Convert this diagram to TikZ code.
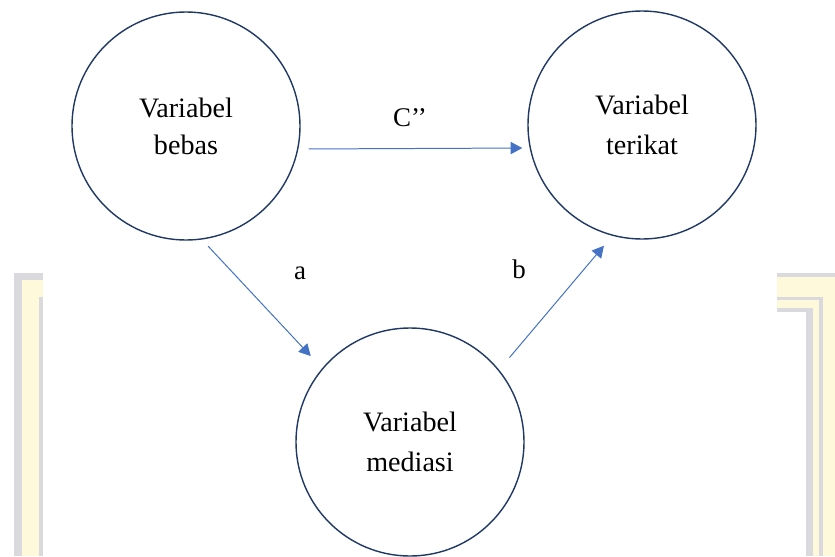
\documentclass[tikz,border=0pt]{standalone}
\usepackage{fontspec}
\setmainfont{Liberation Serif}
\usepackage{xcolor}
\usetikzlibrary{arrows.meta, positioning, calc}
\definecolor{varnavy}{RGB}{31, 56, 100}
\definecolor{varblue}{RGB}{68, 114, 196}
\definecolor{wmyellow}{RGB}{255, 249, 220}
\definecolor{wmgray}{RGB}{218, 218, 222}
\tikzset{
  varnode/.style={circle, draw=varnavy, line width=1.2pt, fill=white,
                  minimum size=6.84cm, inner sep=0pt, align=center,
                  font=\fontsize{24}{31.5}\selectfont},
  arrow/.style={-{Triangle[length=10pt, width=10.5pt]}, line width=0.85pt, color=varblue},
  pathlabel/.style={font=\fontsize{23}{26}\selectfont},
}

\begin{document}
\begin{tikzpicture}[x=0.03cm, y=-0.03cm]
        \useasboundingbox (0,0) rectangle (835,556);
        % watermark page border
        \fill[wmgray] (14,273) rectangle (43,556);
        \fill[wmyellow] (22,280) rectangle (43,556);
        \fill[wmgray] (39,297) rectangle (43,556);
        \fill[wmgray] (777,273) rectangle (835,556);
        \fill[wmyellow] (777,277) rectangle (835,556);
        \fill[wmgray] (777,297) rectangle (823,556);
        \fill[wmyellow] (777,300) rectangle (819,556);
        \fill[wmgray] (777,308) rectangle (813,556);
        \fill[white] (777,312) rectangle (806,556);
        \fill[white] (43,265) rectangle (777,556);
        % variables
        \node[varnode] (bebas) at (186,126) {Variabel\\bebas};
        \node[varnode] (terikat) at (642,125) {Variabel\\[3pt]terikat};
        \node[varnode] (mediasi) at (410,442) {Variabel\\[2pt]mediasi};
        % paths
        \draw[arrow, shorten <=0.24cm, shorten >=0.15cm]
             ([yshift=-0.69cm]bebas.east) -- ([yshift=-0.69cm]terikat.west);
        \draw[arrow, shorten <=0.27cm, shorten >=0.5cm] (bebas.-82) -- (mediasi.140.5);
        \draw[arrow, shorten <=0.48cm, shorten >=0.39cm] (mediasi.39.8) -- (terikat.255.9);
        \node[pathlabel] (lblc) at (410,118) {C’’};
        \node[pathlabel] (lbla) at (300,273) {a};
        \node[pathlabel] (lblb) at (519,269) {b};
      \end{tikzpicture}
\end{document}
